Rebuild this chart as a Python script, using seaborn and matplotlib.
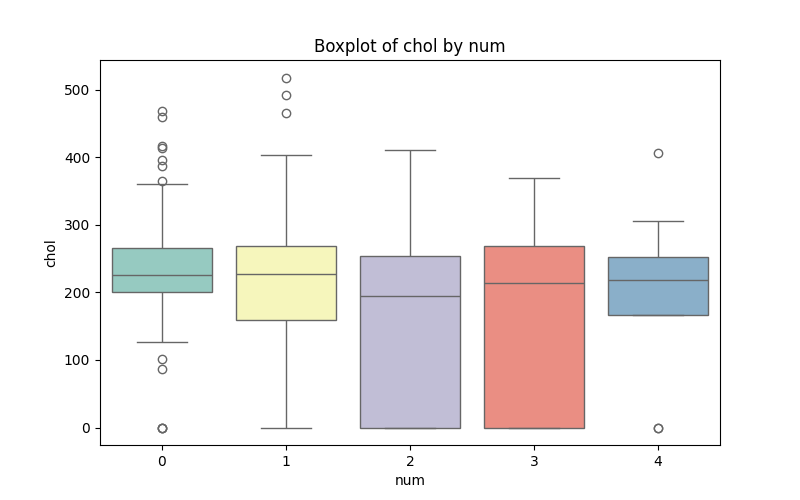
import pandas as pd
import matplotlib
matplotlib.use("Agg")
import matplotlib.pyplot as plt
import seaborn as sns

chol_0 = [0, 0, 0, 86, 101, 127, 150, 170, 185, 195,
          201, 204, 207, 210, 212, 215, 218, 220, 222, 224,
          226, 230, 234, 239, 243, 247, 252, 256, 260, 263,
          266, 290, 320, 361, 365, 387, 396, 413, 417, 459, 469]
chol_1 = [0, 0, 110, 135, 150, 159, 180, 200, 212, 220, 227,
          235, 245, 255, 262, 269, 320, 404, 466, 492, 518]
chol_2 = [0, 0, 0, 0, 0, 150, 170, 185, 194,
          205, 220, 240, 254, 265, 285, 320, 410]
chol_3 = [0, 0, 0, 0, 0, 160, 190, 205, 214,
          225, 240, 255, 268, 285, 300, 330, 370]
chol_4 = [0, 0, 167, 167, 190, 205, 218, 230, 245, 253, 270, 305, 407]

groups = [0, 1, 2, 3, 4]
chol_by_group = [chol_0, chol_1, chol_2, chol_3, chol_4]

rows = []
for g, vals in zip(groups, chol_by_group):
    for v in vals:
        rows.append({"num": g, "chol": v})
df = pd.DataFrame(rows)

plt.figure(figsize=(8, 5), dpi=100)
sns.boxplot(data=df, x="num", y="chol", hue="num", palette="Set3", legend=False)
plt.title("Boxplot of chol by num")
plt.xlabel("num")
plt.ylabel("chol")
plt.savefig("out.png", dpi=100)
plt.close()
